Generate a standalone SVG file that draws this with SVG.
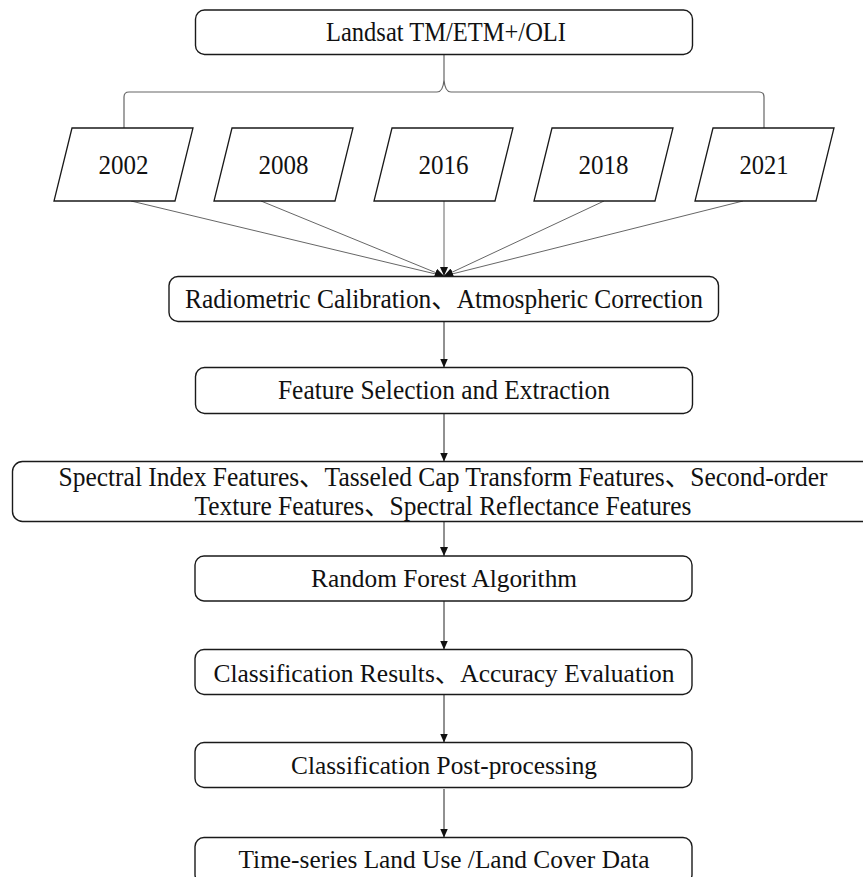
<svg xmlns="http://www.w3.org/2000/svg" width="863" height="877" viewBox="0 0 863 877">
<style>
.box{fill:#fff;stroke:#1a1a1a;stroke-width:1.4}
.para{fill:#fff;stroke:#1a1a1a;stroke-width:1.3}
.t{font-family:"Liberation Serif","Times New Roman","Noto Sans CJK SC",serif;font-size:25px;fill:#111;text-anchor:middle}
.tall{font-size:26.5px}
.yr{font-size:27px}
.conn{fill:none;stroke:#222;stroke-width:1}
.thin{fill:none;stroke:#555;stroke-width:0.9}
.brace{fill:none;stroke:#666;stroke-width:1.2}
</style>
<defs>
<marker id="ah" markerWidth="9" markerHeight="8" refX="9" refY="4" orient="auto" markerUnits="userSpaceOnUse">
<path d="M0,0 L9,4 L0,8 Z" fill="#111"/>
</marker>
</defs>
<rect width="863" height="877" fill="#fff"/>
<g id="connectors">
<path class="brace" d="M124,128 V97 Q124,92 129,92 H437 Q443,92 444,80 V54.5 M444,80 Q445,92 451,92 H759 Q764,92 764,97 V128"/>
<line class="thin" x1="131" y1="201" x2="444" y2="276" marker-end="url(#ah)"/>
<line class="thin" x1="261" y1="201" x2="444" y2="276" marker-end="url(#ah)"/>
<line class="thin" x1="444" y1="201" x2="444" y2="276" marker-end="url(#ah)"/>
<line class="thin" x1="604" y1="201" x2="444" y2="276" marker-end="url(#ah)"/>
<line class="thin" x1="743" y1="201" x2="444" y2="276" marker-end="url(#ah)"/>
<line class="conn" x1="444" y1="321.5" x2="444" y2="367.5" marker-end="url(#ah)"/>
<line class="conn" x1="444" y1="413.5" x2="444" y2="461.5" marker-end="url(#ah)"/>
<line class="conn" x1="444" y1="521.5" x2="444" y2="556" marker-end="url(#ah)"/>
<line class="conn" x1="444" y1="601" x2="444" y2="649.5" marker-end="url(#ah)"/>
<line class="conn" x1="444" y1="694.5" x2="444" y2="742.5" marker-end="url(#ah)"/>
<line class="conn" x1="444" y1="789" x2="444" y2="837.5" marker-end="url(#ah)"/>
</g>
<g id="landsat">
<rect class="box" x="195.5" y="10" width="497" height="44.5" rx="9"/>
<text class="t yr" x="446" y="41" textLength="240" lengthAdjust="spacingAndGlyphs">Landsat TM/ETM+/OLI</text>
</g>
<g id="y2002">
<polygon class="para" points="72,128 193,128 175,201 54,201"/>
<text class="t yr" x="123.5" y="174" textLength="50" lengthAdjust="spacingAndGlyphs">2002</text>
</g>
<g id="y2008">
<polygon class="para" points="232,128 353,128 335,201 214,201"/>
<text class="t yr" x="283.5" y="174" textLength="50" lengthAdjust="spacingAndGlyphs">2008</text>
</g>
<g id="y2016">
<polygon class="para" points="392,128 513,128 495,201 374,201"/>
<text class="t yr" x="443.5" y="174" textLength="50" lengthAdjust="spacingAndGlyphs">2016</text>
</g>
<g id="y2018">
<polygon class="para" points="552,128 673,128 655,201 534,201"/>
<text class="t yr" x="603.5" y="174" textLength="50" lengthAdjust="spacingAndGlyphs">2018</text>
</g>
<g id="y2021">
<polygon class="para" points="713,128 834,128 816,201 695,201"/>
<text class="t yr" x="764" y="174" textLength="49" lengthAdjust="spacingAndGlyphs">2021</text>
</g>
<g id="radiometric">
<rect class="box" x="169" y="276.5" width="549.5" height="45" rx="9"/>
<text class="t tall" x="444" y="308" textLength="518" lengthAdjust="spacingAndGlyphs">Radiometric Calibration、Atmospheric Correction</text>
</g>
<g id="feature">
<rect class="box" x="195.5" y="367.5" width="497" height="46" rx="9"/>
<text class="t tall" x="444" y="399" textLength="332" lengthAdjust="spacingAndGlyphs">Feature Selection and Extraction</text>
</g>
<g id="spectral">
<rect class="box" x="12.5" y="461.5" width="870" height="60" rx="10"/>
<text class="t tall" x="443" y="486" textLength="769" lengthAdjust="spacingAndGlyphs">Spectral Index Features、Tasseled Cap Transform Features、Second-order</text>
<text class="t tall" x="443" y="515" textLength="497" lengthAdjust="spacingAndGlyphs">Texture Features、Spectral Reflectance Features</text>
</g>
<g id="rf">
<rect class="box" x="195" y="556" width="497" height="45" rx="9"/>
<text class="t" x="444" y="587" textLength="266" lengthAdjust="spacingAndGlyphs">Random Forest Algorithm</text>
</g>
<g id="results">
<rect class="box" x="195" y="649.5" width="497" height="45" rx="9"/>
<text class="t" x="444" y="681.5" textLength="461" lengthAdjust="spacingAndGlyphs">Classification Results、Accuracy Evaluation</text>
</g>
<g id="post">
<rect class="box" x="195" y="742.5" width="497" height="45" rx="9"/>
<text class="t" x="444" y="774" textLength="306" lengthAdjust="spacingAndGlyphs">Classification Post-processing</text>
</g>
<g id="timeseries">
<rect class="box" x="195" y="837.5" width="497" height="46" rx="9"/>
<text class="t" x="444" y="868" textLength="411" lengthAdjust="spacingAndGlyphs">Time-series Land Use /Land Cover Data</text>
</g>
</svg>
